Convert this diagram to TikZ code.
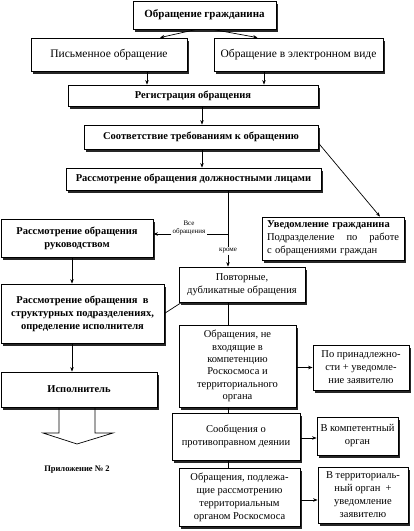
\documentclass[tikz,border=0pt]{standalone}
\usepackage{fontspec}
\setmainfont{Liberation Serif}
\usetikzlibrary{shadows,arrows.meta}
\tikzset{
 bx/.style={draw, fill=white, line width=0.8pt, drop shadow={shadow xshift=1.8pt, shadow yshift=-2.5pt, fill=black!85, opacity=1}, inner sep=1pt, align=center, font=\fontsize{10.5}{13}\selectfont},
 bb/.style={bx, font=\fontsize{10.5}{13}\selectfont\bfseries},
 bxl/.style={bx, font=\fontsize{11.5}{13}\selectfont},
 arr/.style={-{Stealth[length=4.5pt,width=3.5pt]}, line width=0.7pt},
 ln/.style={line width=0.7pt},
 lbl/.style={font=\fontsize{7}{8.5}\selectfont, align=center, inner sep=1pt, fill=white}
}
\begin{document}
\begin{tikzpicture}[x=1pt,y=-1pt]
\useasboundingbox (0,0) rectangle (414,531);
% nodes
\node[bb, font=\fontsize{11}{13}\selectfont\bfseries, minimum width=143, minimum height=28] (top) at (204.5,15) {Обращение гражданина};
\node[bxl, minimum width=156, minimum height=33] (pis) at (109,54.5) {Письменное обращение};
\node[bxl, minimum width=169, minimum height=33] (el) at (298.5,54.5) {Обращение в электронном виде};
\node[bb, minimum width=250, minimum height=21] (reg) at (193,95.5) {Регистрация обращения};
\node[bb, minimum width=234, minimum height=24] (soo) at (201,137) {Соответствие требованиям к обращению};
\node[bb, minimum width=255, minimum height=22] (ras) at (193.5,179) {Рассмотрение обращения должностными лицами};
\node[bx, minimum width=142, minimum height=43, text width=132, align=left] (uv) at (333,238.5) {{\bfseries Уведомление гражданина}\\Подразделение \hfill по \hfill работе\\с обращениями граждан};
\node[bb, minimum width=152, minimum height=38] (ruk) at (77,238) {Рассмотрение обращения\\руководством};
\node[bb, minimum width=163, minimum height=59] (str) at (82.5,313.5) {Рассмотрение обращения \ в\\структурных подразделениях,\\определение исполнителя};
\node[bb, minimum width=156, minimum height=35] (isp) at (79,389.5) {Исполнитель};
\node[bx, minimum width=126, minimum height=35] (pov) at (242,284.5) {Повторные,\\дубликатные обращения};
\node[bx, font=\fontsize{10.5}{12.4}\selectfont, minimum width=117, minimum height=82] (ne) at (237.5,366) {Обращения, не\\входящие в\\компетенцию\\Роскосмоса и\\территориального\\органа};
\node[bx, minimum width=96, minimum height=45] (pop) at (361,367.5) {По принадлежно-\\сти + уведомле-\\ние заявителю};
\node[bx, minimum width=128, minimum height=47] (soob) at (236,436.5) {Сообщения о\\противоправном деянии};
\node[bx, minimum width=81, minimum height=38] (komp) at (357.5,436) {В компетентный\\орган};
\node[bx, minimum width=121, minimum height=58] (pod) at (239.5,497) {Обращения, подлежа-\\щие рассмотрению\\территориальным\\органом Роскосмоса};
\node[bx, minimum width=90, minimum height=56] (ter) at (363,495) {В территориаль-\\ный орган \ +\\уведомление\\заявителю};
% labels
\node[lbl] (vse) at (189,228) {Все\\обращения};
\node[lbl] (krome) at (228,251) {кроме};
\node[font=\fontsize{8.5}{10}\selectfont\bfseries] (pril) at (77,470) {Приложение № 2};
% connectors
\draw[arr] ([xshift=-8]top.south) -- ([xshift=51]pis.north);
\draw[arr] ([xshift=8]top.south) -- ([xshift=-41]el.north);
\draw[arr] ([xshift=38]pis.south) -- ([xshift=38]pis.south |- reg.north);
\draw[arr] ([xshift=-34.5]el.south) -- ([xshift=-34.5]el.south |- reg.north);
\draw[arr] ([xshift=9]reg.south) -- ([xshift=9]reg.south |- soo.north);
\draw[arr] ([xshift=1]soo.south) -- ([xshift=1]soo.south |- ras.north);
\draw[arr] ([yshift=-6]soo.east) -- ([xshift=47]uv.north);
\coordinate (j) at ([xshift=34.5]ras.south |- 0,234);
\draw[arr] ([xshift=34.5]ras.south) -- (krome) -- ([xshift=34.5]ras.south |- pov.north);
\draw[ln] (j) -- (j -| vse.east);
\draw[arr] (vse.west |- j) -- (j -| ruk.east);
\draw[arr] ([xshift=-5]ruk.south) -- ([xshift=-5]ruk.south |- str.north);
\draw[arr] ([xshift=-10.5]str.south) -- ([xshift=-10.5]str.south |- isp.north);
\draw[ln] (str.east) -- ([xshift=3]pov.south west);
\draw[ln] ([xshift=-14]pov.south) -- ([xshift=-14]pov.south |- ne.north);
\draw[ln] ([xshift=-9.5]ne.south) -- ([xshift=-9.5]ne.south |- soob.north);
\draw[ln] ([xshift=-8]soob.south) -- ([xshift=-8]soob.south |- pod.north);
\draw[arr] ([yshift=-1.5]ne.east) -- ([yshift=-1.5]ne.east -| pop.west);
\draw[arr] ([yshift=-1.5]soob.east) -- ([yshift=-1.5]soob.east -| komp.west);
\draw[arr] ([yshift=-3]pod.east) -- ([yshift=-3]pod.east -| ter.west);
% hollow arrow
\draw[line width=0.7pt] (59,407) -- (59,433) -- (43,433) -- (77,444) -- (113,433) -- (95,433) -- (95,407);
\end{tikzpicture}
\end{document}
